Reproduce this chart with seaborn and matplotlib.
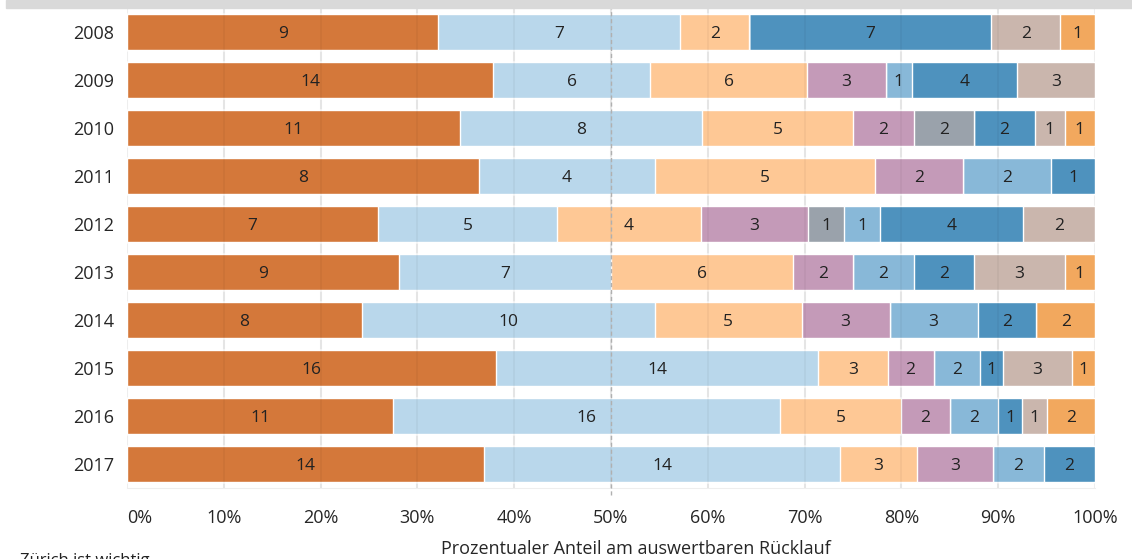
import matplotlib
matplotlib.use("Agg")
import matplotlib.pyplot as plt
import seaborn as sns
import numpy as np
import pandas as pd
from matplotlib.patches import Rectangle

# Data
years = ["2008", "2009", "2010", "2011", "2012", "2013", "2014", "2015", "2016", "2017"]
cat_a = [9, 14, 11, 8, 7, 9, 8, 16, 11, 14]   # dark orange
cat_b = [7, 6, 8, 4, 5, 7, 10, 14, 16, 14]    # light blue
cat_c = [2, 6, 5, 5, 4, 6, 5, 3, 5, 3]        # peach
cat_d = [0, 3, 2, 2, 3, 2, 3, 2, 2, 3]        # purple
cat_e = [0, 0, 2, 0, 1, 0, 0, 0, 0, 0]        # grey
cat_f = [0, 1, 0, 2, 1, 2, 3, 2, 2, 2]        # mid blue
cat_g = [7, 4, 2, 1, 4, 2, 2, 1, 1, 2]        # blue
cat_h = [2, 3, 1, 0, 2, 3, 0, 3, 1, 0]        # tan
cat_i = [1, 0, 1, 0, 0, 1, 2, 1, 2, 0]        # orange

series = [cat_a, cat_b, cat_c, cat_d, cat_e, cat_f, cat_g, cat_h, cat_i]
colors = ["#d4783a", "#b9d7eb", "#fec895", "#c49ab8", "#9aa2ab",
          "#88b8d8", "#4e92be", "#cab6ad", "#f2a85e"]

counts = np.array(series, dtype=float)
shares = counts / counts.sum(axis=0) * 100
cum = np.cumsum(shares, axis=0)

sns.set_style("white")
plt.rcParams["font.family"] = ["Open Sans", "DejaVu Sans"]

fig = plt.figure(figsize=(11.32, 5.59), dpi=100)
W, H = 1132, 559
ax = fig.add_axes([127 / W, 1 - 488 / H, (1095 - 127) / W, 480 / H])

# grey band on top
fig.patches.append(Rectangle((6 / W, 1 - 8 / H), 1, 8 / H, transform=fig.transFigure,
                             color="#d9d9d9", zorder=0))

# stacked bars drawn as overlapping cumulative bars (last first)
for k in range(len(series) - 1, -1, -1):
    df = pd.DataFrame({"year": years, "value": cum[k]})
    sns.barplot(data=df, x="value", y="year", orient="h", color=colors[k],
                width=0.77, saturation=1, ax=ax, zorder=2)

# faint grid showing through the bars
ax.vlines(np.arange(10, 100, 10), -0.5, 9.5, color=(0, 0, 0, 0.035),
          linewidth=1.5, zorder=3)

# segment labels
for k in range(len(series)):
    for j in range(len(years)):
        if counts[k, j] > 0:
            mid = cum[k, j] - shares[k, j] / 2
            ax.text(mid, j, str(int(counts[k, j])), ha="center", va="center_baseline",
                    fontsize=12.5, color="#222222", zorder=5)

ax.axvline(50, color="#b0b0b0", linestyle=(0, (3, 2)), linewidth=1, zorder=4,
           ymin=-0.015, clip_on=False)

ax.set_xlim(0, 100)
ax.set_ylim(9.5, -0.5)
ax.set_xticks(np.arange(0, 101, 10))
ax.set_xticklabels([f"{t}%" for t in range(0, 101, 10)])
ax.xaxis.grid(True, color="#eeeeee", linewidth=1.5, zorder=0)
ax.set_axisbelow(True)
for s in ["top", "right", "left"]:
    ax.spines[s].set_visible(False)
ax.spines["bottom"].set_color("#eeeeee")
ax.tick_params(axis="x", length=6, color="#e6e6e6", pad=9, labelsize=13)
ax.tick_params(axis="y", length=0, pad=9, labelsize=13)
ax.get_xticklabels()[0].set_ha("left")
ax.set_ylabel("")
ax.set_xlabel("Prozentualer Anteil am auswertbaren Rücklauf", fontsize=13)
ax.xaxis.set_label_coords((636 - 127) / 968, -0.108)

fig.text(20 / W, 1 - 553 / H, "Zürich ist wichtig", fontsize=12, va="top", ha="left",
         color="#222222")

fig.savefig("out.png", dpi=100)
